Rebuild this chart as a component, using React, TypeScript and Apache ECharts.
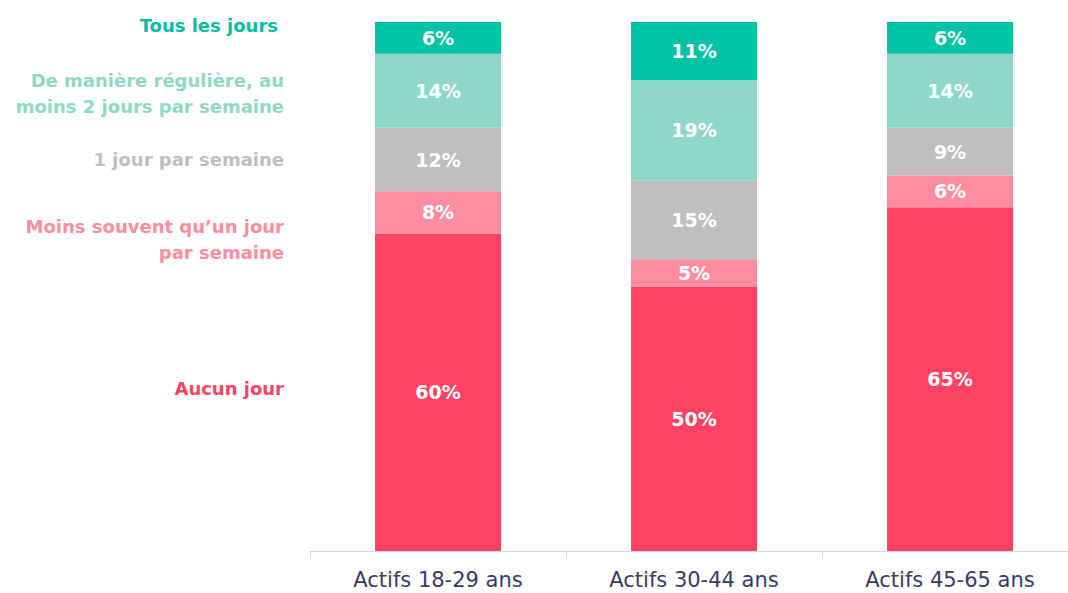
import React, { useEffect, useRef } from "react";
import * as echarts from "echarts";

const categories = ["Actifs 18-29 ans", "Actifs 30-44 ans", "Actifs 45-65 ans"];
const seriesNames = [
  "Aucun jour",
  "Moins souvent qu’un jour par semaine",
  "1 jour par semaine",
  "De manière régulière, au moins 2 jours par semaine",
  "Tous les jours",
];
const aucunJour = [60, 50, 65];
const moinsSouvent = [8, 5, 6];
const unJour = [12, 15, 9];
const reguliere = [14, 19, 14];
const tousLesJours = [6, 11, 6];
const seriesValues = [aucunJour, moinsSouvent, unJour, reguliere, tousLesJours];
const barColors = ["#FF4364", "#FF8C9F", "#BFBFBF", "#8FD8C8", "#00C3A5"];
const textColors = ["#FF4364", "#FF8C9F", "#BFBFBF", "#8FD8C8", "#00BF9F"];
// label lines as shown in the reference (left side)
const labelLines = [
  ["Aucun jour"],
  ["Moins souvent qu’un jour", "par semaine"],
  ["1 jour par semaine"],
  ["De manière régulière, au", "moins 2 jours par semaine"],
  ["Tous les jours"],
];
const labelY = [388, 226, 159, 80, 25];
const labelRight = [284, 284, 284, 284, 278];

const FONT = "'DejaVu Sans', sans-serif";

export default function App() {
  const ref = useRef<HTMLDivElement>(null);
  useEffect(() => {
    if (!ref.current) return;
    const chart = echarts.init(ref.current, undefined, { renderer: "svg" });
    const graphics: any[] = [];
    labelLines.forEach((lines, i) => {
      lines.forEach((line, j) => {
        graphics.push({
          type: "text",
          x: labelRight[i],
          y: labelY[i] + j * 26,
          style: {
            text: line,
            fill: textColors[i],
            font: `bold 18px ${FONT}`,
            textAlign: "right",
            textVerticalAlign: "middle",
          },
        });
      });
    });
    chart.setOption({
      animation: false,
      grid: { left: 310, right: 0, top: 22, bottom: 52 },
      xAxis: {
        type: "category",
        data: categories,
        axisLine: { lineStyle: { color: "#D4D4E6", width: 1 } },
        axisTick: { show: true, length: 8, lineStyle: { color: "#D4D4E6" } },
        axisLabel: {
          color: "#3A3A66",
          fontFamily: FONT,
          fontSize: 21,
          margin: 18,
        },
      },
      yAxis: {
        type: "value",
        min: 0,
        max: 100,
        show: false,
        splitLine: { show: false },
      },
      graphic: graphics,
      series: seriesValues.map((vals, i) => ({
        name: seriesNames[i],
        type: "bar",
        stack: "total",
        data: vals,
        barWidth: 126,
        itemStyle: { color: barColors[i] },
        label: {
          show: true,
          position: "inside",
          formatter: "{c}%",
          color: "#FFFFFF",
          fontFamily: FONT,
          fontWeight: "bold",
          fontSize: 19,
        },
      })),
    });
    return () => chart.dispose();
  }, []);
  return (
    <div style={{ position: "absolute", left: 0, top: 0, width: 1068, height: 593, overflow: "hidden" }}>
      <div ref={ref} style={{ width: 1078, height: 603 }} />
    </div>
  );
}
